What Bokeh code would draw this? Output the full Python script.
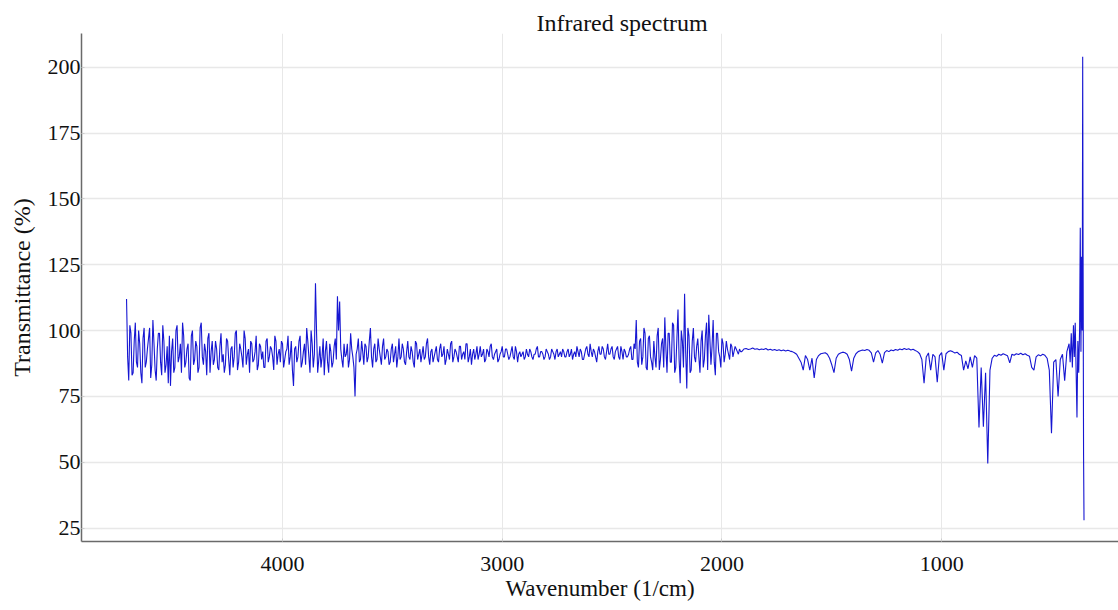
import numpy as np
from bokeh.plotting import figure
from bokeh.models import Range1d, FixedTicker
from bokeh.embed import file_html
from bokeh.resources import INLINE

# Transmittance (%), noisy region 4710 -> 1900 cm-1 (step 10)
trans_a = [
    112, 81, 99, 84, 103, 86, 95, 80, 101, 88, 97, 82, 104, 85, 93, 99, 83, 96, 87, 80,
    79, 97, 86, 102, 90, 84, 98, 88, 95, 81, 100, 89, 94, 86, 103, 87, 92, 97, 84, 96,
    89, 93, 85, 99, 91, 87, 96, 83, 94, 90, 100, 88, 93, 86, 97, 91, 84, 95, 89, 98,
    87, 94, 92, 86, 97, 90, 93, 85, 96, 91, 88, 95, 89, 93, 87, 96, 79, 94, 90, 98,
    88, 95, 101, 90, 100, 86, 118, 84, 94, 90, 83, 96, 84, 92, 88, 97, 113, 111, 89, 95,
    91, 86, 99, 90, 75, 93, 88, 96, 87, 94, 90, 101, 86, 95, 89, 93, 87, 97, 90, 92,
    88, 95, 91, 86, 97, 90, 93, 87, 96, 89, 92, 86, 95, 91, 88, 94, 90, 97, 87, 93,
    90, 94, 88, 95, 91, 87, 93, 89, 96, 90, 92, 88, 94, 91, 89, 95, 90, 87, 93, 91,
    89, 94, 91, 88, 93, 90, 95, 89, 92, 88, 91, 94, 90, 93, 89, 92, 90, 94, 88, 92,
    91, 89, 93, 90, 92, 89, 91, 94, 90, 92, 89, 93, 91, 90, 92, 89, 93, 91, 90, 92,
    90, 93, 91, 89, 92, 94, 90, 92, 89, 93, 91, 95, 90, 92, 88, 94, 91, 93, 89, 95,
    91, 94, 89, 93, 90, 94, 89, 92, 90, 93, 89, 95, 104, 86, 97, 90, 99, 85, 98, 88,
    96, 86, 101, 89, 97, 105, 84, 99, 88, 102, 86, 108, 80, 96, 114, 78, 98, 85, 101, 88,
    97, 84, 100, 89, 103, 106, 87, 104, 83, 99, 90, 97, 88, 96, 91, 95, 90, 94, 92, 93,
    92, 93,
]

# Same noisy region, readings in between (4705 -> 1905 cm-1, step 10)
trans_a_mid = [
    90, 102, 83, 96, 88, 100, 84, 97, 86, 93, 101, 87, 95, 81, 99, 88, 102, 84, 94, 98,
    92, 84, 100, 88, 95, 103, 86, 93, 82, 98, 87, 96, 84, 101, 90, 95, 83, 99, 92, 87,
    96, 86, 94, 88, 84, 97, 89, 93, 86, 99, 85, 95, 90, 100, 87, 93, 96, 88, 92, 85,
    95, 89, 86, 96, 88, 94, 90, 98, 87, 93, 96, 86, 92, 98, 90, 85, 93, 88, 96, 86,
    92, 87, 96, 84, 95, 91, 99, 89, 86, 97, 92, 88, 95, 86, 94, 89, 100, 93, 86, 90,
    95, 89, 93, 86, 91, 97, 89, 92, 95, 88, 96, 90, 93, 88, 97, 90, 94, 89, 93, 87,
    93, 88, 94, 90, 89, 95, 88, 92, 90, 94, 88, 96, 89, 93, 91, 89, 95, 90, 92, 88,
    92, 89, 93, 90, 94, 89, 91, 95, 88, 93, 90, 94, 89, 92, 95, 88, 93, 91, 89, 94,
    91, 90, 93, 89, 92, 94, 90, 91, 93, 89, 92, 90, 93, 91, 90, 94, 89, 92, 91, 90,
    92, 90, 91, 93, 90, 91, 93, 90, 92, 91, 90, 92, 89, 93, 91, 92, 90, 92, 93, 90,
    92, 90, 93, 91, 90, 92, 93, 89, 91, 94, 90, 92, 93, 90, 92, 91, 94, 90, 92, 91,
    93, 90, 92, 94, 89, 92, 93, 90, 91, 94, 89, 93, 88, 96, 87, 101, 86, 97, 90, 85,
    90, 98, 85, 95, 86, 93, 99, 88, 103, 84, 97, 89, 100, 86, 92, 101, 84, 96, 90, 94,
    90, 96, 86, 98, 85, 97, 94, 88, 99, 92, 86, 95, 91, 93, 89, 94, 92, 93, 91, 92,
    92.5,
]

# Quieter region 1890 -> 420 cm-1 (step 10)
trans_b = [
    93.2, 92.8, 93.0, 93.4, 92.9, 93.1, 92.7, 93.0, 92.8, 93.2, 92.6, 92.9, 92.5, 92.8, 92.4, 92.7, 92.3, 92.6, 92.2, 92.5,
    92.2, 92.0, 91.6, 91.0, 89.5, 88.0, 85.0, 90.5, 89.0, 85.0, 89.5, 82.0, 89.0, 90.5, 91.2, 91.4, 91.6, 91.0, 89.5, 87.0,
    84.0, 89.5, 91.0, 91.5, 91.8, 91.6, 91.0, 89.0, 84.6, 89.5, 91.2, 92.0, 92.3, 92.6, 92.4, 92.8, 92.5, 91.5, 88.0, 91.5,
    92.4, 91.0, 87.6, 91.6, 92.4, 92.0, 92.6, 92.3, 92.8, 92.5, 93.0, 92.7, 93.2, 92.8, 93.1, 92.6, 92.9, 92.4, 92.0, 91.2,
    89.0, 80.0, 90.0, 91.5, 85.0, 91.0, 90.0, 80.4, 90.5, 91.6, 85.0, 91.2, 92.0, 92.3, 92.0, 91.5, 91.8, 91.0, 90.5, 85.0,
    88.5, 85.5, 90.0, 86.0, 90.5, 89.5, 63.2, 86.0, 63.5, 84.0, 49.5, 85.0, 89.5, 90.6, 90.2, 91.0, 90.6, 91.2, 90.8, 90.4,
    87.7, 91.0, 90.6, 91.2, 90.9, 91.4, 90.8, 91.2, 90.6, 90.2, 86.0, 85.0, 90.0, 90.8, 90.4, 91.0, 90.6, 89.5, 85.0, 61.0,
    88.0, 89.0, 75.0, 89.0, 91.0, 81.0, 92.0, 95.0,
]

# Final sharp features near the detector cut-off
tail_wavenumber = [415, 410, 405, 400, 396, 392, 388, 384, 380, 376, 372, 369, 366, 363, 360, 358, 356, 354, 352]
tail_trans = [88, 99, 86, 102, 90, 103, 85, 67, 96, 84, 101, 139, 92, 128, 100, 204, 122, 53, 28]

x_ticks = [4000, 3000, 2000, 1000]
y_ticks = [25, 50, 75, 100, 125, 150, 175, 200]

wn_a = list(range(4710, 1899, -10))
wn_a_mid = list(range(4705, 1904, -10))
noisy = sorted(zip(wn_a + wn_a_mid, trans_a + trans_a_mid), reverse=True)
wn_b = list(range(1890, 419, -10))
wavenumber = [w for w, _ in noisy] + wn_b + tail_wavenumber
transmittance = [t for _, t in noisy] + trans_b + tail_trans

SERIF = "Liberation Serif"

p = figure(width=1118, height=610, output_backend="svg", toolbar_location=None,
           x_range=Range1d(4915, 195), y_range=Range1d(19.9, 212.8),
           title="Infrared spectrum",
           min_border_left=81, min_border_right=0, min_border_top=33, min_border_bottom=69)

p.line(wavenumber, transmittance, line_color="#1616d2", line_width=1.1)

p.title.align = "left"
p.title.offset = 455
p.title.text_font = SERIF
p.title.text_font_size = "24px"
p.title.text_font_style = "normal"
p.title.text_color = "#111111"
p.title.standoff = -5

p.outline_line_color = None
p.background_fill_color = "white"
p.border_fill_color = "white"

p.xaxis.ticker = FixedTicker(ticks=x_ticks)
p.yaxis.ticker = FixedTicker(ticks=y_ticks)
p.xaxis.axis_label = "Wavenumber (1/cm)"
p.yaxis.axis_label = "Transmittance (%)"

for ax in (p.xaxis, p.yaxis):
    ax.axis_label_text_font = SERIF
    ax.axis_label_text_font_style = "normal"
    ax.axis_label_text_color = "#111111"
    ax.major_label_text_font = SERIF
    ax.major_label_text_font_size = "22px"
    ax.major_label_text_color = "#111111"
    ax.axis_line_color = "#6a6a6a"
    ax.axis_line_width = 1.5
    ax.major_tick_line_color = "#cccccc"
    ax.major_tick_out = 0
    ax.major_tick_in = 3
    ax.minor_tick_line_color = None

p.xaxis.axis_label_text_font_size = "23px"
p.yaxis.axis_label_text_font_size = "24px"
p.xaxis.major_label_standoff = 15
p.yaxis.major_label_standoff = 1
p.xaxis.axis_label_standoff = 2
p.yaxis.axis_label_standoff = 10

p.xgrid.grid_line_color = "#e8e8e8"
p.ygrid.grid_line_color = "#e8e8e8"
p.xgrid.grid_line_width = 1
p.ygrid.grid_line_width = 1.5

open("out.html", "w").write(file_html(p, INLINE))
